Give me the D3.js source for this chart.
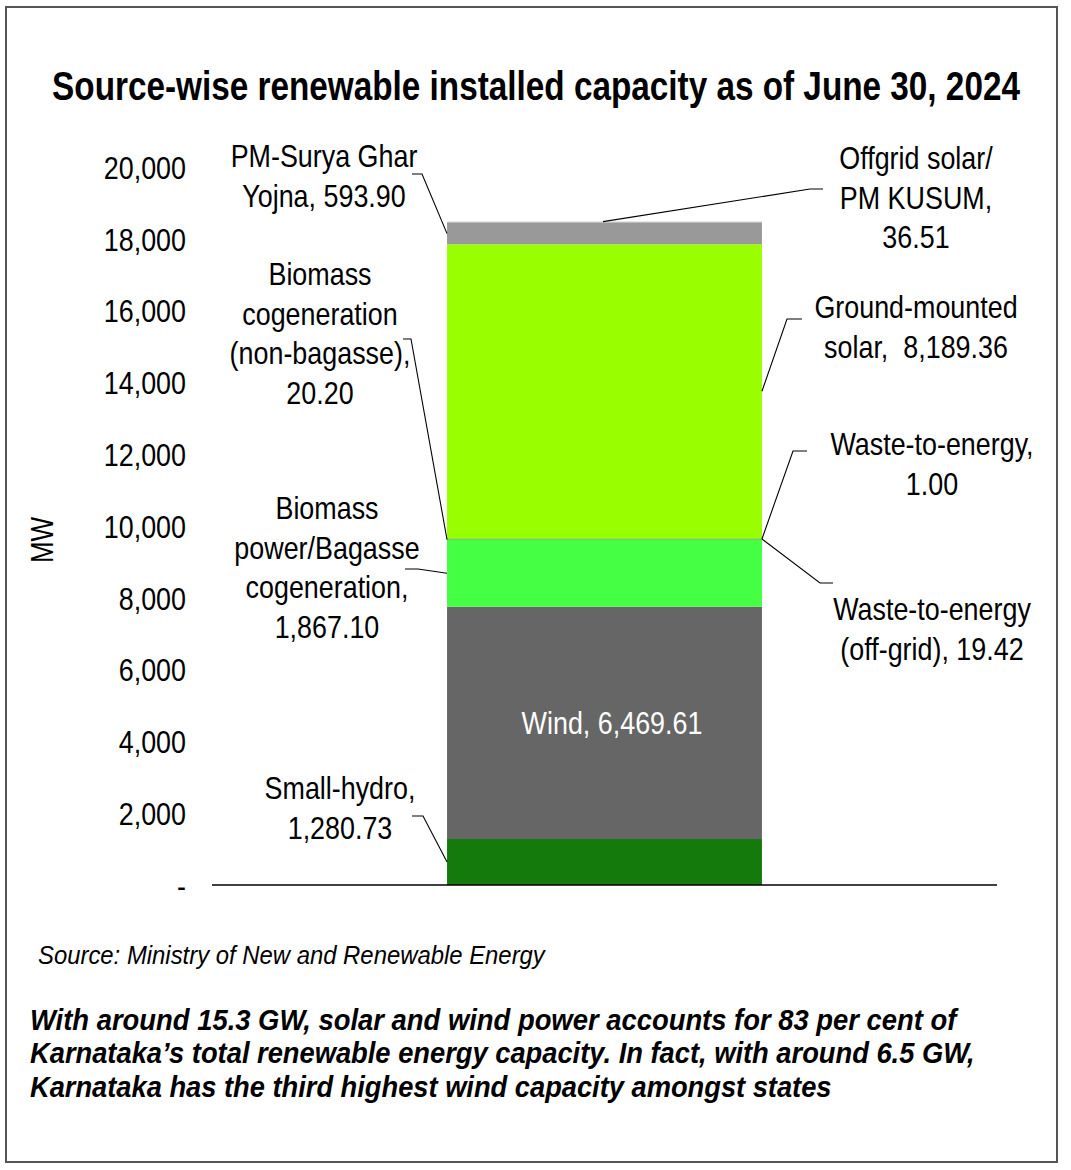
<!DOCTYPE html>
<html>
<head>
<meta charset="utf-8">
<script src="https://cdn.jsdelivr.net/npm/d3@7"></script>
<style>
  html, body { margin: 0; padding: 0; background: #fff; }
  svg text { font-family: "Liberation Sans Narrow", "Arial Narrow", "Liberation Sans", Arial, sans-serif; fill: #000; white-space: pre; }
</style>
</head>
<body>
<div id="chart"></div>
<script>
// stack order, bottom to top
const sources = [
  "Small-hydro",
  "Wind",
  "Biomass power/Bagasse cogeneration",
  "Biomass cogeneration (non-bagasse)",
  "Waste-to-energy",
  "Waste-to-energy (off-grid)",
  "Ground-mounted solar",
  "PM-Surya Ghar Yojna",
  "Offgrid solar/PM KUSUM"
];
const capacityMW = [1280.73, 6469.61, 1867.10, 20.20, 1.00, 19.42, 8189.36, 593.90, 36.51];
const sourceColors = ["#137a0b", "#666666", "#44ff44", "#33cc33", "#88cc44", "#77bb33", "#99ff00", "#999999", "#bbbbbb"];
// {v} gets the formatted value
const labelLines = [
  ["Small-hydro,", "{v}"],
  ["Wind, {v}"],
  ["Biomass", "power/Bagasse", "cogeneration,", "{v}"],
  ["Biomass", "cogeneration", "(non-bagasse),", "{v}"],
  ["Waste-to-energy,", "{v}"],
  ["Waste-to-energy", "(off-grid), {v}"],
  ["Ground-mounted", "solar,  {v}"],
  ["PM-Surya Ghar", "Yojna, {v}"],
  ["Offgrid solar/", "PM KUSUM,", "{v}"]
];
const yTicks = [0, 2000, 4000, 6000, 8000, 10000, 12000, 14000, 16000, 18000, 20000];
const chartTitle = "Source-wise renewable installed capacity as of June 30, 2024";
const sourceNote = "Source: Ministry of New and Renewable Energy";
const takeaway = [
  "With around 15.3 GW, solar and wind power accounts for 83 per cent of",
  "Karnataka\u2019s total renewable energy capacity. In fact, with around 6.5 GW,",
  "Karnataka has the third highest wind capacity amongst states"
];

// label placement: centre x, first line centre y, elbow points, where the leader meets the bar
const labelLayout = [
  { x: 340, y: 788, elbow: [[412, 816], [423, 816]], side: "left" },
  { x: 612, y: null, inside: true },
  { x: 327, y: 508, elbow: [[405, 569], [418, 569]], side: "left" },
  { x: 320, y: 274, elbow: [[403, 339], [411, 339]], side: "left" },
  { x: 932, y: 444, elbow: [[807, 451], [793, 451]], side: "right" },
  { x: 932, y: 609, elbow: [[833, 583], [820, 583]], side: "right" },
  { x: 916, y: 307, elbow: [[802, 319], [787, 319]], side: "right" },
  { x: 324, y: 156, elbow: [[412, 174], [422, 174]], side: "left" },
  { x: 916, y: 158, elbow: [[823, 189], [810, 189]], side: "top", barX: 603 }
];

const width = 1071;
const height = 1170;
const lineGap = 39.5;
const narrow = 0.84;

// squeeze a text sideways about its anchor x, to look like a narrow face or fit a width
function condense(sel, target) {
  sel.each(function () {
    const w = this.getComputedTextLength();
    const k = target ? target / w : narrow;
    const cx = +this.getAttribute("x") || 0;
    this.setAttribute("transform",
      "translate(" + cx + ",0) scale(" + k + ",1) translate(" + (-cx) + ",0)");
  });
}

const svg = d3.select("#chart").append("svg")
  .attr("width", width)
  .attr("height", height);

svg.append("rect")
  .attr("x", 6).attr("y", 7)
  .attr("width", 1051).attr("height", 1155)
  .attr("fill", "#fff")
  .attr("stroke", "#555")
  .attr("stroke-width", 2);

svg.append("text")
  .attr("x", 536).attr("y", 100)
  .attr("text-anchor", "middle")
  .attr("font-size", 40)
  .attr("font-weight", "bold")
  .text(chartTitle)
  .call(condense, 968);

const y = d3.scaleLinear().domain([0, 20000]).range([885, 167]);
const x = d3.scaleBand().domain(["Karnataka"]).range([212, 997]).padding(0.4274);

// stacked values
let running = 0;
const segments = capacityMW.map(function (v, i) {
  const seg = { name: sources[i], value: v, y0: running, y1: running + v, color: sourceColors[i] };
  running += v;
  return seg;
});

const fmt = d3.format(",.2f");

const yAxis = d3.axisLeft(y)
  .tickValues(yTicks)
  .tickSize(0)
  .tickPadding(0)
  .tickFormat(function (d) { return d === 0 ? "-" : d3.format(",")(d); });

const yAxisG = svg.append("g")
  .attr("transform", "translate(186,0)")
  .call(yAxis);
yAxisG.select(".domain").remove();
yAxisG.selectAll("text")
  .attr("font-size", 32)
  .attr("font-family", null)
  .attr("fill", "#000")
  .attr("dy", "0.35em")
  .call(condense);

svg.append("text")
  .attr("transform", "translate(53,540) rotate(-90) scale(0.84,1)")
  .attr("text-anchor", "middle")
  .attr("font-size", 31)
  .text("MW");

const bx = x("Karnataka");
const bw = x.bandwidth();

svg.append("g")
  .selectAll("rect")
  .data(segments)
  .enter()
  .append("rect")
  .attr("x", bx)
  .attr("width", bw)
  .attr("y", function (d) { return y(d.y1); })
  .attr("height", function (d) { return y(d.y0) - y(d.y1); })
  .attr("fill", function (d) { return d.color; });

svg.append("line")
  .attr("x1", 212).attr("x2", 997)
  .attr("y1", y(0)).attr("y2", y(0))
  .attr("stroke", "#000")
  .attr("stroke-width", 1.5);

// leaders
const leaders = svg.append("g");
segments.forEach(function (d, i) {
  const lay = labelLayout[i];
  if (lay.inside) return;
  let ax, ay;
  if (lay.side === "top") {
    ax = lay.barX;
    ay = y(d.y1);
  } else {
    ax = lay.side === "left" ? bx : bx + bw;
    ay = d.value < 100 ? y(d.y0) : y((d.y0 + d.y1) / 2);
  }
  const pts = lay.elbow.concat([[ax, ay]]);
  leaders.append("path")
    .attr("d", d3.line()(pts))
    .attr("fill", "none")
    .attr("stroke", "#000")
    .attr("stroke-width", 1.1);
});

// labels, one text per line so each can be squeezed
const labels = svg.append("g");
segments.forEach(function (d, i) {
  const lay = labelLayout[i];
  const lines = labelLines[i].map(function (s) { return s.replace("{v}", fmt(d.value)); });
  const cy = lay.inside ? y((d.y0 + d.y1) / 2) : lay.y;
  lines.forEach(function (s, k) {
    labels.append("text")
      .attr("x", lay.x)
      .attr("y", cy + k * lineGap)
      .attr("dy", "0.35em")
      .attr("text-anchor", "middle")
      .attr("font-size", 32)
      .style("fill", lay.inside ? "#fff" : "#000")
      .text(s)
      .call(condense);
  });
});

svg.append("text")
  .attr("x", 38).attr("y", 964)
  .attr("font-size", 26)
  .attr("font-style", "italic")
  .text(sourceNote)
  .call(condense, 507);

const noteWidths = [927, 945, 802];
takeaway.forEach(function (s, k) {
  svg.append("text")
    .attr("x", 30)
    .attr("y", 1030 + k * 33.5)
    .attr("font-size", 30)
    .attr("font-weight", "bold")
    .attr("font-style", "italic")
    .text(s)
    .call(condense, noteWidths[k]);
});
</script>
</body>
</html>
